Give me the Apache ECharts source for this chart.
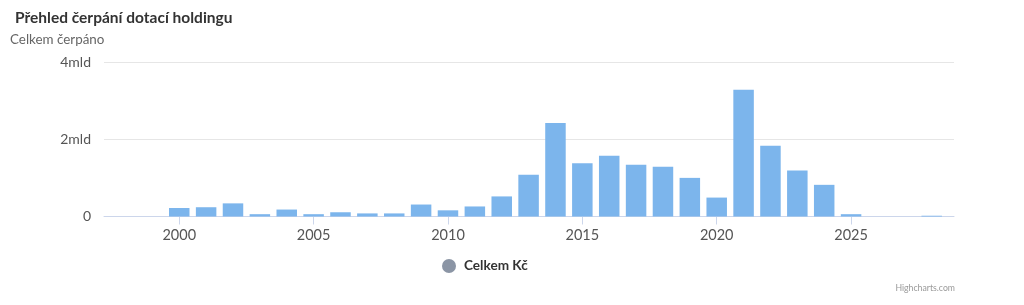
<!DOCTYPE html>
<html>
<head>
<meta charset="utf-8">
<script src="https://cdn.jsdelivr.net/npm/echarts@6/dist/echarts.min.js"></script>
<style>
html,body{margin:0;padding:0;background:#fff;}
#chart{width:1024px;height:305px;}
</style>
</head>
<body>
<div id="chart"></div>
<script>
// Data (values in Kč)
const years = [2000,2001,2002,2003,2004,2005,2006,2007,2008,2009,2010,2011,2012,2013,2014,2015,2016,2017,2018,2019,2020,2021,2022,2023,2024,2025,2026,2027,2028];
const values = [220e6,240e6,340e6,60e6,180e6,60e6,110e6,80e6,80e6,310e6,160e6,260e6,520e6,1080e6,2420e6,1380e6,1570e6,1340e6,1290e6,1000e6,490e6,3280e6,1830e6,1190e6,820e6,60e6,0,0,20e6];
const xTicks = [2000,2005,2010,2015,2020,2025];
const yTicks = [0,2e9,4e9];

const seriesData = years.map((y,i)=>[y, values[i]]);
const FONT = 'Lato, "Noto Sans", sans-serif';

const chart = echarts.init(document.getElementById('chart'), null, {renderer:'canvas'});
chart.setOption({
  animation:false,
  backgroundColor:'#ffffff',
  textStyle:{fontFamily:FONT},
  title:[
    {text:'Přehled čerpání dotací holdingu', left:10, top:5,
     textStyle:{fontFamily:FONT, fontSize:15.5, fontWeight:'bold', color:'#333333'}},
    {text:'Celkem čerpáno', left:5, top:28,
     textStyle:{fontFamily:FONT, fontSize:13.4, fontWeight:'normal', color:'#666666'}},
    {text:'Highcharts.com', right:64, top:279,
     textStyle:{fontFamily:FONT, fontSize:8.7, fontWeight:'normal', color:'#999999'}}
  ],
  legend:{
    left:437, top:254,
    icon:'circle', itemWidth:14, itemHeight:14, itemGap:8,
    textStyle:{fontFamily:FONT, fontSize:13.6, fontWeight:'bold', color:'#333333', padding:[0,0,0,3]},
    data:[{name:'Celkem Kč', itemStyle:{color:'#8b95a5'}}]
  },
  grid:{left:104, width:850, top:62, height:154.5, containLabel:false},
  xAxis:{
    type:'value', min:1997.2, max:2028.83,
    axisLine:{show:true, lineStyle:{color:'#ccd6eb', width:1}},
    axisTick:{show:true, length:8, lineStyle:{color:'#ccd6eb'}, customValues:xTicks},
    axisLabel:{customValues:xTicks, margin:11, fontFamily:FONT, fontSize:14.5, color:'#555555', formatter:v=>String(v)},
    splitLine:{show:false}
  },
  yAxis:{
    type:'value', min:0, max:4e9, interval:2e9,
    axisLine:{show:false}, axisTick:{show:false},
    axisLabel:{customValues:yTicks, margin:13, fontFamily:FONT, fontSize:14, color:'#555555',
      formatter:v=> v===0 ? '0' : (v/1e9)+'mld'},
    splitLine:{show:true, lineStyle:{color:'#e6e6e6', width:1}}
  },
  series:[{
    name:'Celkem Kč', type:'bar', data:seriesData, barWidth:20.5,
    itemStyle:{color:'#7cb5ec', borderWidth:0}
  }]
});
</script>
</body>
</html>
